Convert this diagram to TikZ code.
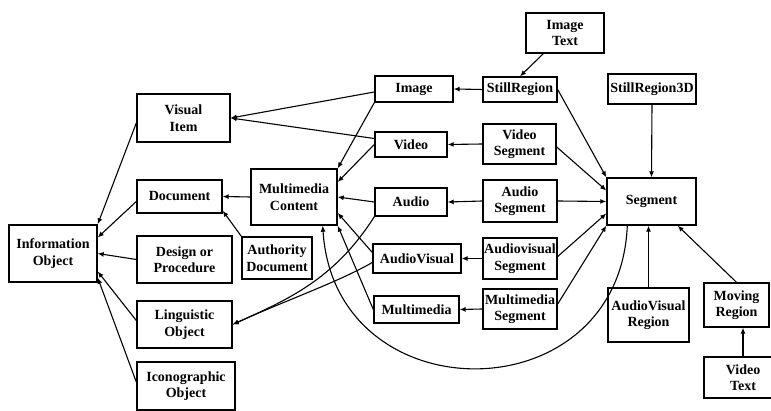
\documentclass[tikz,border=0pt]{standalone}
\usepackage{fontspec}
\setmainfont{Liberation Serif}
\usetikzlibrary{arrows.meta,calc}

\begin{document}
\begin{tikzpicture}[x=1pt,y=-1pt,
  box/.style={draw,line width=1.4pt,inner sep=0pt,align=center,font=\fontsize{14}{16.5}\selectfont\bfseries},
  arr/.style={line width=1.1pt,-{Latex[length=6pt,width=5pt]}}]
\useasboundingbox (0,0) rectangle (771,411);
\node[box,minimum width=88,minimum height=57] (info) at (53,253.5) {Information\\Object};
\node[box,minimum width=93,minimum height=48] (visual) at (183.5,118) {Visual\\Item};
\node[box,minimum width=85,minimum height=33] (document) at (179.5,196.5) {Document};
\node[box,minimum width=95,minimum height=47] (design) at (184.5,259.5) {Design or\\Procedure};
\node[box,minimum width=95,minimum height=47] (linguistic) at (184.5,324.5) {Linguistic\\Object};
\node[box,minimum width=98,minimum height=48] (icono) at (186,386) {Iconographic\\Object};
\node[box,minimum width=86,minimum height=56] (mmcontent) at (294,197) {Multimedia\\Content};
\node[box,minimum width=70,minimum height=42] (authority) at (277,258) {Authority\\Document};
\node[box,minimum width=78,minimum height=26] (image) at (414,89) {Image};
\node[box,minimum width=72,minimum height=25] (video) at (411,144.5) {Video};
\node[box,minimum width=72,minimum height=28] (audio) at (411,202) {Audio};
\node[box,minimum width=88,minimum height=29] (audiovisual) at (417,258.5) {AudioVisual};
\node[box,minimum width=85,minimum height=27] (multimedia) at (416.5,309.5) {Multimedia};
\node[box,minimum width=74,minimum height=25] (stillregion) at (520,89.5) {StillRegion};
\node[box,minimum width=78,minimum height=40] (imagetext) at (565,33) {Image\\Text};
\node[box,minimum width=73,minimum height=40] (videoseg) at (519.5,144) {Video\\Segment};
\node[box,minimum width=74,minimum height=42] (audioseg) at (520,201) {Audio\\Segment};
\node[box,minimum width=74,minimum height=41] (avseg) at (520,258.5) {Audiovisual\\Segment};
\node[box,minimum width=74,minimum height=40] (mmseg) at (520,309) {Multimedia\\Segment};
\node[box,minimum width=88,minimum height=30] (stillregion3d) at (652,89) {StillRegion3D};
\node[box,minimum width=89,minimum height=47] (segment) at (651.5,201.5) {Segment};
\node[box,minimum width=81,minimum height=54] (avregion) at (648.5,315) {AudioVisual\\Region};
\node[box,minimum width=65,minimum height=44] (moving) at (736.5,305) {Moving\\Region};
\node[box,minimum width=78,minimum height=41] (videotext) at (743,377.5) {Video\\Text};
\draw[arr] ($(visual.west)+(0,5)$) -- (info.north east);
\draw[arr] ($(document.west)+(0,5)$) -- ($(info.east)+(0,-16)$);
\draw[arr] (design.west) -- (info.east);
\draw[arr] ($(linguistic.west)+(0,-4)$) -- ($(info.east)+(0,18)$);
\draw[arr] ($(icono.west)+(0,-4)$) -- ($(info.south east)+(0,-5)$);
\draw[arr] (mmcontent.west) -- (document.east);
\draw[arr] (authority.north west) -- ($(document.south east)+(0,-3)$);
\draw[arr] ($(image.west)+(0,3)$) -- (visual.east);
\draw[arr] ($(video.west)+(0,-6)$) -- (visual.east);
\draw[arr] (image.south west) -- (mmcontent.north east);
\draw[arr] (video.west) -- ($(mmcontent.east)+(0,-15)$);
\draw[arr] (audio.west) -- (mmcontent.east);
\draw[arr] ($(audiovisual.west)+(0,-6)$) -- ($(mmcontent.east)+(0,16)$);
\draw[arr] (multimedia.west) -- (mmcontent.south east);
\draw[arr] (audio.south west) .. controls +(-40,63) and +(55,-25) .. (linguistic.east);
\draw[arr] ($(audiovisual.west)+(0,4)$) .. controls +(-35,20) and +(55,-25) .. (linguistic.east);
\draw[arr] ($(segment.south west)+(21,0)$) .. controls +(-8,190) and +(12,190) .. ($(mmcontent.south east)+(-15,0)$);
\draw[arr] (stillregion.west) -- (image.east);
\draw[arr] ($(imagetext.south west)+(18,0)$) -- (stillregion.north);
\draw[arr] (videoseg.west) -- (video.east);
\draw[arr] (audioseg.west) -- (audio.east);
\draw[arr] (avseg.west) -- (audiovisual.east);
\draw[arr] (mmseg.west) -- (multimedia.east);
\draw[arr] (stillregion.east) -- (segment.north west);
\draw[arr] ($(videoseg.east)+(0,3)$) -- ($(segment.west)+(0,-11)$);
\draw[arr] (audioseg.east) -- (segment.west);
\draw[arr] ($(avseg.east)+(0,-2)$) -- ($(segment.west)+(0,12)$);
\draw[arr] ($(mmseg.east)+(0,-5)$) -- (segment.south west);
\draw[arr] (stillregion3d.south) -- (segment.north);
\draw[arr] (avregion.north) -- (avregion.north |- segment.south);
\draw[arr] (moving.north) -- ($(segment.south east)+(-19,0)$);
\draw[arr] (videotext.north) -- (videotext.north |- moving.south);
\end{tikzpicture}
\end{document}
